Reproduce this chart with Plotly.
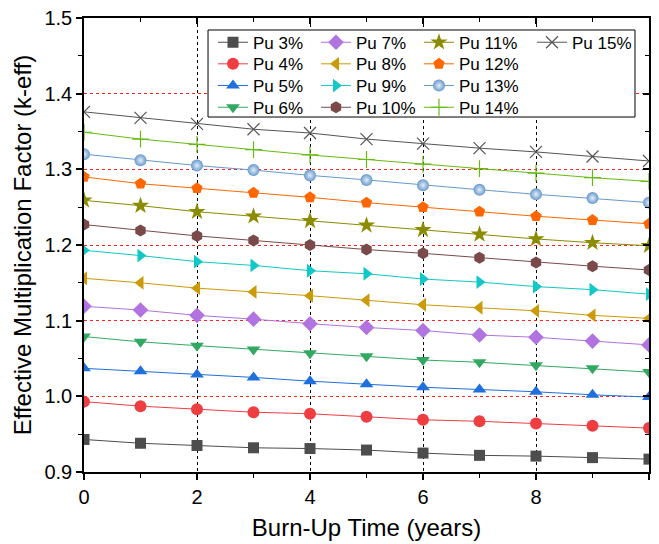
import plotly.graph_objects as go

years = [0, 1, 2, 3, 4, 5, 6, 7, 8, 9, 10]

pu3 = [0.943, 0.938, 0.935, 0.932, 0.931, 0.929, 0.925, 0.922, 0.921, 0.919, 0.917]
pu4 = [0.993, 0.987, 0.983, 0.979, 0.977, 0.973, 0.969, 0.967, 0.964, 0.961, 0.958]
pu5 = [1.037, 1.033, 1.029, 1.025, 1.020, 1.016, 1.012, 1.009, 1.006, 1.002, 0.999]
pu6 = [1.079, 1.072, 1.067, 1.062, 1.057, 1.053, 1.048, 1.045, 1.041, 1.037, 1.032]
pu7 = [1.119, 1.114, 1.107, 1.102, 1.096, 1.091, 1.087, 1.081, 1.078, 1.073, 1.068]
pu8 = [1.156, 1.150, 1.143, 1.138, 1.133, 1.127, 1.121, 1.117, 1.113, 1.107, 1.103]
pu9 = [1.193, 1.186, 1.178, 1.173, 1.166, 1.162, 1.155, 1.151, 1.145, 1.141, 1.135]
pu10 = [1.227, 1.219, 1.212, 1.206, 1.200, 1.194, 1.189, 1.183, 1.177, 1.172, 1.167]
pu11 = [1.259, 1.252, 1.244, 1.238, 1.232, 1.226, 1.220, 1.214, 1.208, 1.203, 1.199]
pu12 = [1.290, 1.281, 1.275, 1.269, 1.263, 1.256, 1.250, 1.244, 1.238, 1.233, 1.228]
pu13 = [1.320, 1.312, 1.305, 1.299, 1.292, 1.286, 1.279, 1.273, 1.267, 1.262, 1.256]
pu14 = [1.349, 1.340, 1.333, 1.326, 1.319, 1.313, 1.307, 1.301, 1.295, 1.289, 1.284]
pu15 = [1.376, 1.368, 1.360, 1.353, 1.348, 1.340, 1.334, 1.328, 1.323, 1.317, 1.311]

names = ["Pu 3%", "Pu 4%", "Pu 5%", "Pu 6%", "Pu 7%", "Pu 8%", "Pu 9%",
         "Pu 10%", "Pu 11%", "Pu 12%", "Pu 13%", "Pu 14%", "Pu 15%"]
series = [pu3, pu4, pu5, pu6, pu7, pu8, pu9, pu10, pu11, pu12, pu13, pu14, pu15]
colors = ["#4d4d4d", "#ef3e42", "#1f6fdc", "#33a862", "#b073e0", "#cc9a06", "#11c8c8",
          "#7a4a4a", "#8b8b00", "#ff6600", "#6699cc", "#66bb11", "#555555"]
symbols = ["square", "circle", "triangle-up", "triangle-down", "diamond", "triangle-left",
           "triangle-right", "hexagon", "star", "pentagon", "circle", "cross-thin", "x-thin"]
sizes = [11, 12, 12, 12, 12, 12, 12, 12, 13, 12, 12, 12, 12]

font = "Arial, Liberation Sans, sans-serif"

# legend layout: 4 columns x 4 rows, column-major
col_x = [0.2283, 0.4106, 0.5929, 0.7929]
row_y = [0.9456, 0.8981, 0.8502, 0.8024]

fig = go.Figure()
legend_layout = {}
for i, (nm, ys, c, s, sz) in enumerate(zip(names, series, colors, symbols, sizes)):
    marker = dict(symbol=s, size=sz, color=c, line=dict(width=0, color=c))
    if s in ("cross-thin", "x-thin"):
        marker["line"] = dict(width=1.2, color=c)
    if nm == "Pu 13%":
        marker["gradient"] = dict(type="radial", color="#e3edf8")
    lg = "legend" if i == 0 else f"legend{i + 1}"
    fig.add_trace(go.Scatter(x=years, y=ys, name=nm, mode="lines+markers",
                             line=dict(color=c, width=1), marker=marker, legend=lg))
    legend_layout[lg] = dict(x=col_x[i // 4], y=row_y[i % 4], xanchor="left", yanchor="middle",
                             bgcolor="rgba(0,0,0,0)", borderwidth=0,
                             font=dict(family=font, size=17, color="black"))

# overlay axes for inside ticks on top/right
fig.add_trace(go.Scatter(x=[None], y=[None], xaxis="x2", yaxis="y2", showlegend=False))

fig.update_layout(
    width=659, height=544,
    margin=dict(l=84, r=10, t=18, b=72, autoexpand=False),
    paper_bgcolor="white", plot_bgcolor="white",
    font=dict(family=font, color="black"),
    xaxis=dict(range=[0, 10], dtick=2, tick0=0, showgrid=True, gridcolor="black", griddash="3px,3px",
               gridwidth=1, showline=True, linecolor="black", linewidth=1.5, ticks="outside",
               ticklen=6, tickwidth=1.5, tickcolor="black", zeroline=False, automargin=False,
               tickfont=dict(size=20),
               minor=dict(dtick=1, ticks="outside", ticklen=4, tickwidth=1.2, tickcolor="black", showgrid=False),
               title=dict(text="Burn-Up Time (years)", font=dict(size=24), standoff=12)),
    yaxis=dict(range=[0.9, 1.5], dtick=0.1, tick0=0.9, tickformat=".1f", showgrid=True,
               gridcolor="#ff2020", griddash="3px,3px", gridwidth=1, showline=True, linecolor="black",
               linewidth=1.5, ticks="outside", ticklen=6, tickwidth=1.5, tickcolor="black",
               zeroline=False, automargin=False, tickfont=dict(size=20),
               minor=dict(dtick=0.05, ticks="outside", ticklen=4, tickwidth=1.2, tickcolor="black", showgrid=False),
               title=dict(text="Effective Multiplication Factor (k-eff)", font=dict(size=24), standoff=6)),
    xaxis2=dict(range=[0, 10], overlaying="x", side="top", dtick=2, tick0=0, showgrid=False,
                showline=True, linecolor="black", linewidth=1.5, ticks="inside", ticklen=6,
                tickwidth=1.5, tickcolor="black", showticklabels=False, zeroline=False,
                minor=dict(dtick=1, ticks="inside", ticklen=4, tickwidth=1.2, tickcolor="black", showgrid=False)),
    yaxis2=dict(range=[0.9, 1.5], overlaying="y", side="right", dtick=0.1, tick0=0.9, showgrid=False,
                showline=True, linecolor="black", linewidth=1.5, ticks="inside", ticklen=6,
                tickwidth=1.5, tickcolor="black", showticklabels=False, zeroline=False,
                minor=dict(dtick=0.05, ticks="inside", ticklen=4, tickwidth=1.2, tickcolor="black", showgrid=False)),
    shapes=[dict(type="rect", xref="paper", yref="paper", x0=0.2195, x1=0.9752, y0=0.7819, y1=0.9736,
                 line=dict(color="black", width=1), fillcolor="white", layer="above")],
    **legend_layout,
)

fig.write_html("out.html", config={"displayModeBar": False},
               post_script="document.body.style.margin='0';document.body.style.overflow='hidden';")
